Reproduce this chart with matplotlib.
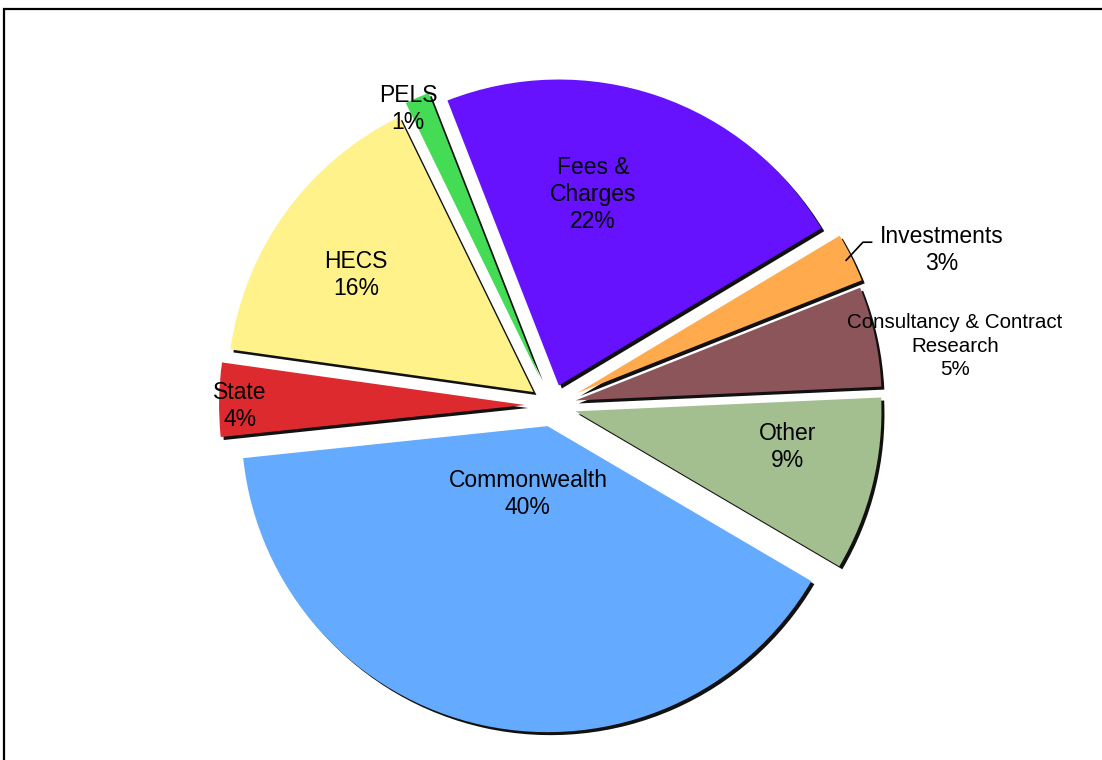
"""Exploded pie of revenue sources, redrawn with matplotlib."""
import numpy as np
import matplotlib

matplotlib.use("Agg")
import matplotlib.pyplot as plt  # noqa: E402
import matplotlib.patches as mpatches  # noqa: E402
import matplotlib.transforms as mtransforms  # noqa: E402

plt.rcParams["font.family"] = ["Liberation Sans", "DejaVu Sans"]

# data, counter-clockwise starting from the left (Commonwealth first)
sources = ["Commonwealth", "Other", "Consultancy & Contract\nResearch",
           "Investments", "Fees &\nCharges", "PELS", "HECS", "State"]
shares = [40.0, 9.2, 5.3, 2.6, 22.4, 1.3, 15.6, 3.9]
colors = ["#64AAFF", "#A3BE8F", "#8C5559", "#FFAA4C",
          "#6612FF", "#44DC55", "#FFF28B", "#DD2A2F"]
explode = [0.069, 0.079, 0.079, 0.092, 0.069, 0.098, 0.075, 0.088]

# label placement: (radius, angle in degrees) from the pie centre
label_pos = [(0.30, 254.8), (0.783, 350.0), (1.331, 8.4), (1.372, 21.7),
             (0.701, 79.0), (1.077, 115.9), (0.769, 146.4), (1.02, 180.1)]

W, H = 1102, 760
cx, cy, R = 552, 405.5, 306  # centre (image px, from top) and radius in px

fig = plt.figure(figsize=(W / 100, H / 100), dpi=100)
ax = fig.add_axes([0, 0, 1, 1])

wedges, _ = ax.pie(shares, colors=colors, explode=explode, startangle=186,
                   counterclock=True, radius=1.0,
                   wedgeprops=dict(linewidth=0, zorder=3))

# dark drop shadow to the lower right of each slice
shadow_tr = mtransforms.offset_copy(ax.transData, fig=fig, x=3, y=-3,
                                    units="dots")
for w in wedges:
    sh = mpatches.Wedge(w.center, w.r, w.theta1, w.theta2, facecolor="#111111",
                        edgecolor="none", transform=shadow_tr, zorder=2)
    ax.add_patch(sh)

total = sum(shares)
for i, (name, val) in enumerate(zip(sources, shares)):
    r, a = label_pos[i]
    x, y = r * np.cos(np.radians(a)), r * np.sin(np.radians(a))
    size = 14.8 if i == 2 else 16.5
    ax.text(x, y, f"{name}\n{round(val / total * 100):.0f}%", ha="center",
            va="center", fontsize=size, color="black",
            linespacing=1.3 if i == 2 else 1.22, zorder=5)

# leader line for Investments
w = wedges[3]
mid = np.radians((w.theta1 + w.theta2) / 2)
p0 = np.array([np.cos(mid), np.sin(mid)]) * (1 + explode[3] - 0.02)
p1 = p0 + np.array([0.055, 0.059])
p2 = p1 + np.array([0.028, 0.0])
ax.plot([p0[0], p1[0], p2[0]], [p0[1], p1[1], p2[1]], color="black", lw=1.2,
        zorder=5)

ax.set_xlim(-cx / R, (W - cx) / R)
ax.set_ylim(-(H - cy) / R, cy / R)
ax.axis("off")

# frame around the chart area (right and bottom sides run off the image)
frame = mpatches.Rectangle((4 / W, -0.2), 1.2, 0.2 + (H - 9) / H,
                           transform=fig.transFigure, fill=False,
                           edgecolor="black", linewidth=1.6, clip_on=False)
fig.patches.append(frame)

fig.savefig("out.png", dpi=100)
